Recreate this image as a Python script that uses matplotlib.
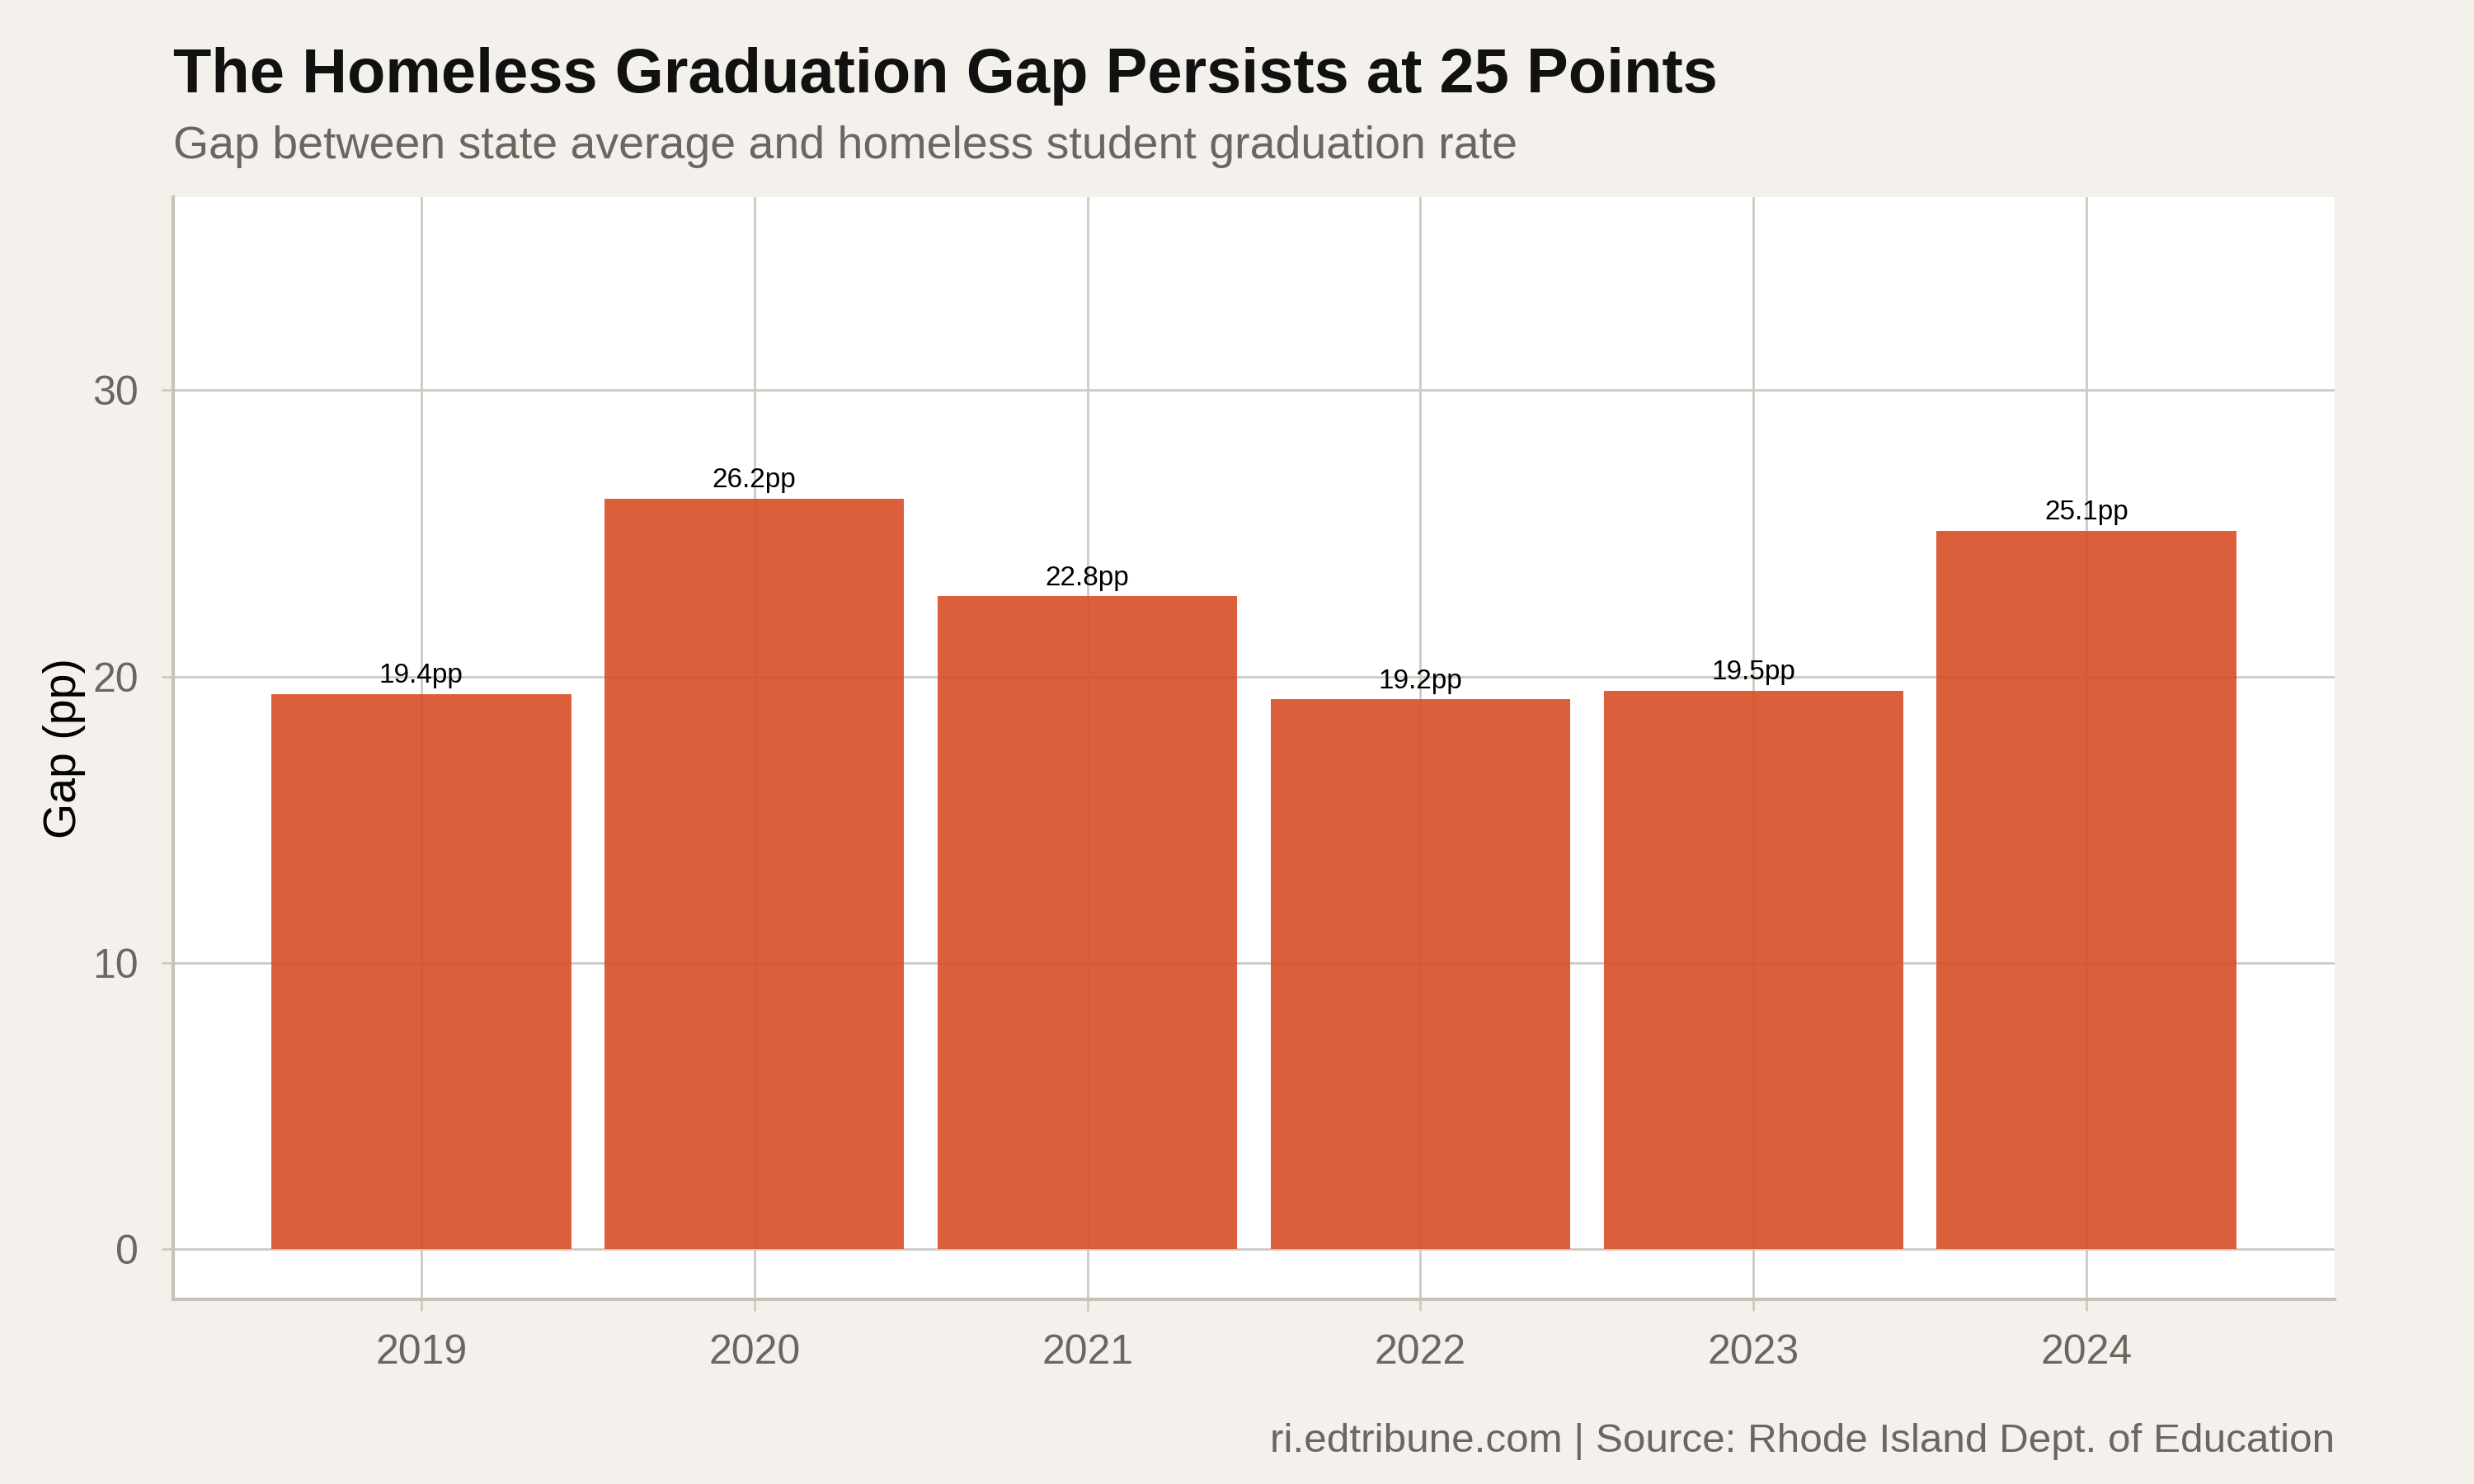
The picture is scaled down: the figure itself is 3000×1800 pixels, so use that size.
import matplotlib.pyplot as plt

# data
years = [2019, 2020, 2021, 2022, 2023, 2024]
gap = [19.4, 26.2, 22.8, 19.2, 19.5, 25.1]
labels = ['19.4pp', '26.2pp', '22.8pp', '19.2pp', '19.5pp', '25.1pp']
yticks = [0, 10, 20, 30]

bg = '#F4F1EC'
grid_col = '#CFCAC1'
axis_col = '#C8C3B8'
txt_gray = '#6B6660'

plt.rcParams['font.family'] = ['Liberation Sans', 'DejaVu Sans']

fig = plt.figure(figsize=(15, 9), dpi=200, facecolor=bg)
W, H = 3000, 1800
# panel position in pixels
left, right, top, bottom = 210, 2831, 239, 1576
ax = fig.add_axes([left / W, 1 - bottom / H, (right - left) / W, (bottom - top) / H])
ax.set_facecolor('white')

ax.bar(years, gap, width=0.9, color='#D94E27', alpha=0.9, zorder=3)
for x, y, s in zip(years, gap, labels):
    ax.annotate(s, (x, y), xytext=(0, 2.5), textcoords='offset points',
                ha='center', va='bottom', fontsize=12, color='black', zorder=4)

ax.set_xlim(2018.255, 2024.745)
ax.set_ylim(-1.75, 36.75)
ax.set_xticks(years)
ax.set_xticklabels([str(y) for y in years])
ax.set_yticks(yticks)

ax.grid(True, color=grid_col, linewidth=1.0, zorder=1)
ax.set_axisbelow(True)

for s in ['top', 'right']:
    ax.spines[s].set_visible(False)
for s in ['left', 'bottom']:
    ax.spines[s].set_color(axis_col)
    ax.spines[s].set_linewidth(1.5)

ax.tick_params(axis='both', colors=grid_col, length=5, width=1.0,
               labelcolor=txt_gray, labelsize=18)
ax.tick_params(axis='x', pad=10)
ax.tick_params(axis='y', pad=10)

ax.set_ylabel('Gap (pp)', fontsize=20, color='black', labelpad=3)

fig.text(left / W, 1 - 112 / H, 'The Homeless Graduation Gap Persists at 25 Points',
         fontsize=27.3, fontweight='bold', color='#111111', ha='left', va='baseline')
fig.text(left / W, 1 - 192 / H, 'Gap between state average and homeless student graduation rate',
         fontsize=20, color=txt_gray, ha='left', va='baseline')
fig.text(right / W, 1 - 1761 / H, 'ri.edtribune.com | Source: Rhode Island Dept. of Education',
         fontsize=17.8, color=txt_gray, ha='right', va='baseline')

fig.savefig('out.png', dpi=200, facecolor=bg)
